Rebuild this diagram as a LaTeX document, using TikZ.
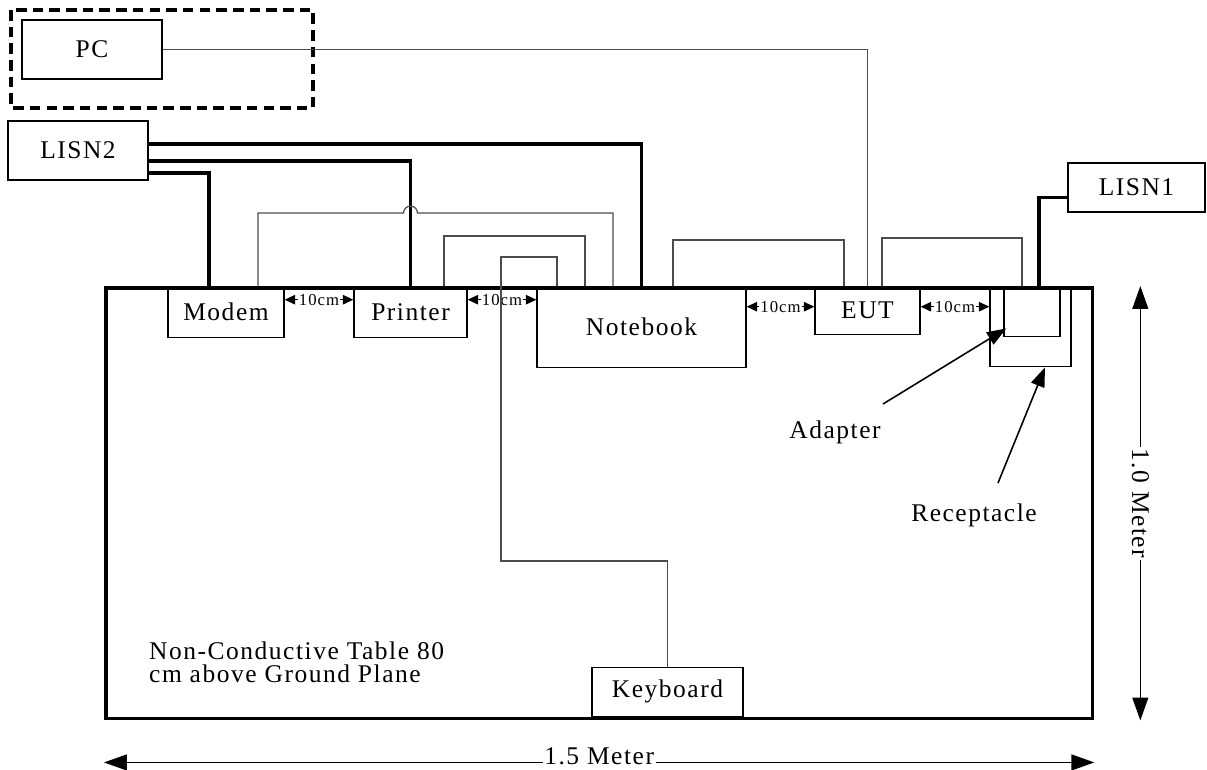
\documentclass[tikz,border=0pt]{standalone}
\usepackage{fontspec}
\setmainfont{Liberation Serif}[LetterSpace=6]
\usetikzlibrary{arrows.meta}

\begin{document}
\begin{tikzpicture}[x=0.02cm, y=-0.02cm,
  dev/.style={draw, line width=0.8pt, inner sep=0pt, font=\fontsize{14.5}{14.5}\selectfont},
  power/.style={line width=2pt},
  signal/.style={line width=0.7pt, black!70},
  gap/.style={{Triangle[length=6pt,width=5.5pt]}-{Triangle[length=6pt,width=5.5pt]}, line width=0.6pt},
  gaptxt/.style={fill=white, inner sep=0.8pt, font=\fontsize{9.5}{9.5}\selectfont},
  callout/.style={-{Triangle[length=11pt,width=8pt]}, line width=0.9pt},
  meter/.style={{Triangle[length=13pt,width=9pt]}-{Triangle[length=13pt,width=9pt]}, line width=0.9pt},
  lbl/.style={font=\fontsize{14.5}{13}\selectfont}
]
  \useasboundingbox (0,0) rectangle (1207,769);

  % off-table equipment
  \node[dev, minimum width=2.8cm, minimum height=1.18cm] (pc) at (92,49.5) {PC};
  \draw[line width=2pt, dash pattern=on 6pt off 3.5pt] (11,10) rectangle (313,108);
  \node[dev, minimum width=2.8cm, minimum height=1.18cm] (lisn2) at (78,150.5) {LISN2};
  \node[dev, minimum width=2.74cm, minimum height=0.98cm] (lisn1) at (1136.5,187.5) {LISN1};

  % table and equipment on it
  \node[draw, line width=2pt, inner sep=0pt, anchor=north west,
        minimum width=19.74cm, minimum height=8.62cm] (table) at (104,286) {};
  \node[dev, anchor=north, minimum width=2.32cm, minimum height=1.02cm] (modem) at (226,286) {Modem};
  \node[dev, anchor=north, minimum width=2.26cm, minimum height=1.02cm] (printer) at (410.5,286) {Printer};
  \node[dev, anchor=north, minimum width=4.18cm, minimum height=1.62cm] (notebook) at (641.5,286) {Notebook};
  \node[dev, anchor=north, minimum width=2.1cm, minimum height=0.96cm] (eut) at (867.5,286) {EUT};
  \node[dev, anchor=north, minimum width=1.62cm, minimum height=1.6cm] (recept) at (1030.5,286) {};
  \node[dev, anchor=north, minimum width=1.12cm, minimum height=1cm] (adapter) at (1032,286) {};
  \node[dev, anchor=south, minimum width=3.02cm, minimum height=0.98cm] (kbd) at (667.5,717) {Keyboard};
  \node[lbl, anchor=west, align=left] (note) at (143,662) {Non-Conductive Table 80\\cm above Ground Plane};

  % 10 cm spacings
  \draw[gap] ([yshift=0.25cm]modem.east) -- node[gaptxt] {10cm} ([yshift=0.25cm]printer.west);
  \draw[gap] ([yshift=0.25cm]printer.east) -- node[gaptxt] {10cm} ([yshift=0.25cm]printer.east -| notebook.west);
  \draw[gap] ([yshift=0.41cm]notebook.east) -- node[gaptxt] {10cm} ([yshift=0.41cm]notebook.east -| eut.west);
  \draw[gap] ([yshift=0.08cm]eut.east) -- node[gaptxt] {10cm} ([yshift=0.08cm]eut.east -| recept.west);

  % mains cables
  \draw[power] ([yshift=0.13cm]lisn2.east) -| (notebook.north);
  \draw[power] ([yshift=-0.21cm]lisn2.east) -| (printer.north);
  \draw[power] ([yshift=-0.45cm]lisn2.east) -| ([xshift=-0.34cm]modem.north);
  \draw[power] ([yshift=-0.2cm]lisn1.west) -| ([xshift=0.14cm]adapter.north);

  % signal cables
  \path ([yshift=1.46cm]printer.north) coordinate (hop);
  \draw[signal] (pc.east) -| (eut.north);
  \draw[signal] ([xshift=0.64cm]modem.north) |- ([xshift=-0.14cm]hop)
    arc[start angle=180, end angle=0, radius=0.14cm] -| ([xshift=-0.57cm]notebook.north);
  \draw[signal] ([xshift=0.67cm]printer.north) -- ++(0,1cm) -| ([xshift=-1.13cm]notebook.north);
  \draw[signal] ([xshift=-1.69cm]notebook.north) -- ++(0,0.58cm) -- ++(-1.12cm,0)
    -- ++(0,-6.08cm) -| (kbd.north);
  \draw[signal] ([xshift=0.63cm]notebook.north) -- ++(0,0.92cm) -| ([xshift=-0.47cm]eut.north);
  \draw[signal] ([xshift=0.29cm]eut.north) -- ++(0,0.96cm) -| ([xshift=-0.2cm]adapter.north);

  % callouts
  \node[lbl] (adlbl) at (835,432) {Adapter};
  \node[lbl] (reclbl) at (974,515) {Receptacle};
  \draw[callout] ([shift={(0.96cm,0.56cm)}]adlbl.center) -- ([shift={(0.06cm,0.18cm)}]adapter.south west);
  \draw[callout] ([shift={(0.48cm,0.64cm)}]reclbl.center) -- ([xshift=0.29cm]recept.south);

  % table size
  \draw[meter] ([xshift=0.92cm]table.north east) -- node[lbl, fill=white, inner sep=1pt, rotate=-90] {1.0 Meter}
    ([xshift=0.92cm]table.south east);
  \draw[meter] ([yshift=-0.84cm]table.south west) -- node[lbl, fill=white, inner sep=1pt, text depth=0pt,
    anchor=base, yshift=-0.05cm] {1.5 Meter} ([yshift=-0.84cm]table.south east);
\end{tikzpicture}
\end{document}
